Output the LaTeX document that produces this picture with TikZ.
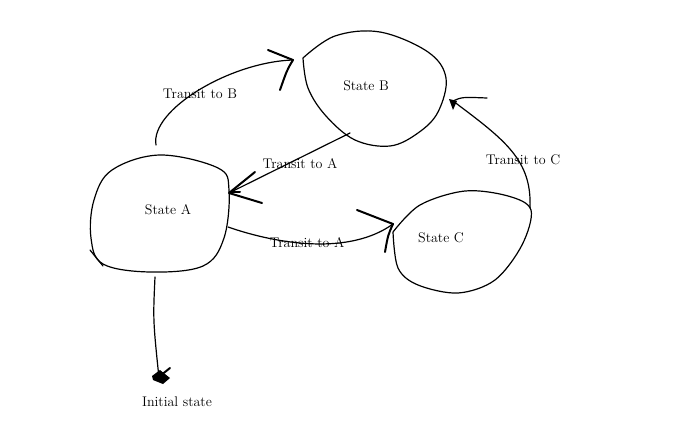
\documentclass[tikz,border=0pt]{standalone}
\begin{document}
\begin{tikzpicture}[x=1pt,y=-1pt,line cap=round,line join=round,
  sk/.style={line width=1.2pt,black},
  head/.style={line width=2pt,black},
  lbl/.style={font=\fontsize{14}{16}\selectfont,inner sep=1pt}]
\useasboundingbox[fill=white] (0,0) rectangle (686,439);
% state blobs
\draw[sk] plot[smooth cycle,tension=0.6] coordinates {(160,155) (218,168) (229,190) (224,238) (203,266) (150,272) (103,264) (91,238) (94,200) (112,170)};
\draw[sk] (90,250) -- (103,266);
\draw[sk] plot[smooth,tension=0.6] coordinates {(303,58) (335,36) (380,32) (428,52) (446,78) (438,112) (418,133) (390,146) (355,140) (326,116) (308,88) (303,58)};
\draw[sk] plot[smooth,tension=0.55] coordinates {(393,232) (420,205) (465,191) (508,196) (531,210) (522,245) (495,280) (458,293) (418,285) (398,268) (393,232)};
% labels
\node[lbl] (A) at (168,210) {State A};
\node[lbl] (B) at (366,86) {State B};
\node[lbl] (C) at (441,238) {State C};
\node[lbl] (I) at (177,402) {Initial state};
% connector endpoints
\coordinate (a1) at (156,145);
\coordinate (b1) at (293,60);
\coordinate (b2) at (350,133);
\coordinate (a2) at (229,193);
\coordinate (a3) at (228,227);
\coordinate (c1) at (393,224);
\coordinate (c2) at (530,208);
\coordinate (b3) at (453,101);
\coordinate (a4) at (155,277);
\coordinate (i1) at (159,378);
% A -> B
\draw[sk] (a1) .. controls (150,110) and (230,62) .. (b1);
\draw[head] (268,50) -- (b1) .. controls (287,70) .. (280,90);
\node[lbl] at (200,94) {Transit to B};
% B -> A
\draw[sk] (b2) -- (a2);
\draw[head] (255,172) -- (a2) -- (262,203);
\draw[head] (230,192) -- (240,192);
\node[lbl] at (300,164) {Transit to A};
% A -> C
\draw[sk] (a3) .. controls (280,245) and (350,255) .. (c1);
\draw[head] (357,210) -- (c1) .. controls (388,235) .. (385,252);
\node[lbl] at (307,243) {Transit to A};
% C -> B
\draw[sk] (c2) .. controls (532,160) and (505,140) .. (b3);
\draw[sk] (b3) .. controls (462,97) .. (487,98);
\fill (449,99) -- (457,101) -- (453,110) -- cycle;
\node[lbl] at (523,160) {Transit to C};
% A -> initial
\draw[sk] (a4) .. controls (153,320) .. (i1);
\fill (152,376) -- (160,370) -- (170,378) -- (163,384) -- (153,380) -- cycle;
\draw[head] (160,376) -- (170,368);
\end{tikzpicture}
\end{document}
